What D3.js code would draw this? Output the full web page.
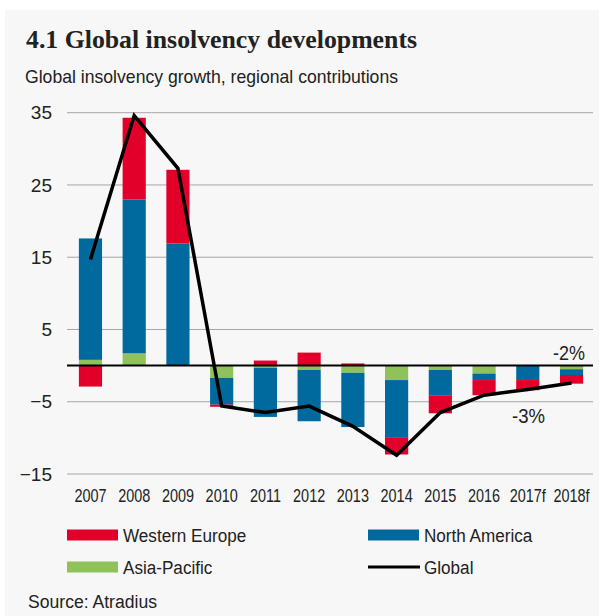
<!DOCTYPE html>
<html>
<head>
<meta charset="utf-8">
<script src="https://cdn.jsdelivr.net/npm/d3@7"></script>
<style>
  body { margin: 0; background: #fff; }
  text { fill: #222; }
  .narrow { font-family: "Liberation Sans Narrow", "Arial Narrow", "Liberation Sans", Arial, sans-serif; }
</style>
</head>
<body>
<div id="chart"></div>
<script>
// Chart data
var years = ["2007", "2008", "2009", "2010", "2011", "2012", "2013", "2014", "2015", "2016", "2017f", "2018f"];
var asiaPacific = [0.8, 1.7, 0, -1.7, -0.3, -0.6, -1.0, -2.0, -0.6, -1.1, 0, -0.5];
var northAmerica = [16.8, 21.3, 16.9, -3.7, -6.8, -7.1, -7.5, -8.0, -3.5, -0.9, -2.0, -0.8];
var westernEurope = [-2.9, 11.3, 10.2, -0.3, 0.7, 1.8, 0.3, -2.3, -2.5, -2.1, -1.4, -1.2];
var globalGrowth = [14.7, 34.6, 27.3, -5.6, -6.5, -5.6, -8.4, -12.4, -6.5, -4.1, -3.3, -2.4];
var yTicks = [35, 25, 15, 5, -5, -15];

var svgWidth = 601;
var svgHeight = 616;

var colors = {
  asia: "#8fc35a",
  na: "#00699d",
  we: "#e2002b"
};

// squeeze a text to a given width (no narrow font installed)
function fitWidth(sel, w) {
  sel.each(function() {
    var len = w;
    if (typeof w === "function") len = w(this.getComputedTextLength());
    d3.select(this)
      .attr("textLength", len)
      .attr("lengthAdjust", "spacingAndGlyphs");
  });
}

var svg = d3.select("#chart")
  .append("svg")
  .attr("width", svgWidth)
  .attr("height", svgHeight);

// grey panel
svg.append("rect")
  .attr("x", 5)
  .attr("y", 10)
  .attr("width", 594)
  .attr("height", 606)
  .attr("fill", "#f7f7f7");

// titles
svg.append("text")
  .attr("x", 26)
  .attr("y", 48)
  .style("font-family", "'Liberation Serif', 'Times New Roman', serif")
  .style("font-weight", "bold")
  .style("font-size", "25px")
  .text("4.1 Global insolvency developments")
  .call(fitWidth, 391);

svg.append("text")
  .attr("class", "narrow")
  .attr("x", 25)
  .attr("y", 83)
  .style("font-size", "19px")
  .text("Global insolvency growth, regional contributions")
  .call(fitWidth, 373);

// scales
var x = d3.scaleBand()
  .domain(years)
  .range([68.6, 593.4])
  .paddingInner(0.47)
  .paddingOuter(0.235);

var y = d3.scaleLinear()
  .domain([-15, 35])
  .range([474, 112.7]);

// gridlines
svg.append("g")
  .selectAll("line")
  .data(yTicks)
  .enter()
  .append("line")
  .attr("x1", 67)
  .attr("x2", 593)
  .attr("y1", d => y(d))
  .attr("y2", d => y(d))
  .attr("stroke", "#a6a6a6")
  .attr("stroke-width", 1);

// y axis labels
var yAxis = svg.append("g")
  .attr("transform", "translate(67,0)")
  .call(d3.axisLeft(y).tickValues(yTicks).tickSize(0).tickPadding(15).tickFormat(d3.format("d")));
yAxis.select(".domain").remove();
yAxis.selectAll("text")
  .style("font-size", "19px")
  .style("font-family", "'Liberation Sans', Arial, sans-serif")
  .attr("fill", "#222");

// stacked bars
var rows = years.map(function(yr, i) {
  return { year: yr, asia: asiaPacific[i], na: northAmerica[i], we: westernEurope[i] };
});

var stack = d3.stack()
  .keys(["asia", "na", "we"])
  .offset(d3.stackOffsetDiverging);

var series = stack(rows);

svg.append("g")
  .selectAll("g")
  .data(series)
  .enter()
  .append("g")
  .attr("fill", d => colors[d.key])
  .selectAll("rect")
  .data(d => d)
  .enter()
  .append("rect")
  .attr("x", d => x(d.data.year))
  .attr("width", x.bandwidth())
  .attr("y", d => y(Math.max(d[0], d[1])))
  .attr("height", d => Math.abs(y(d[0]) - y(d[1])));

// zero line
svg.append("line")
  .attr("x1", 67)
  .attr("x2", 593)
  .attr("y1", y(0))
  .attr("y2", y(0))
  .attr("stroke", "#000")
  .attr("stroke-width", 2);

// global line
var line = d3.line()
  .x((d, i) => x(years[i]) + x.bandwidth() / 2)
  .y(d => y(d));

svg.append("path")
  .datum(globalGrowth)
  .attr("d", line)
  .attr("fill", "none")
  .attr("stroke", "#000")
  .attr("stroke-width", 3.5)
  .attr("stroke-linejoin", "miter");

// x axis labels
var xAxis = svg.append("g")
  .attr("transform", "translate(0,484)")
  .call(d3.axisBottom(x).tickSize(0).tickPadding(5));
xAxis.select(".domain").remove();
xAxis.selectAll("text")
  .style("font-size", "18.5px")
  .style("font-family", "'Liberation Sans', Arial, sans-serif")
  .attr("fill", "#222")
  .call(fitWidth, len => len * 0.78);

// annotations
svg.append("text")
  .attr("x", 585)
  .attr("y", 360)
  .attr("text-anchor", "end")
  .style("font-size", "21px")
  .style("font-family", "'Liberation Sans', Arial, sans-serif")
  .text("-2%")
  .call(fitWidth, 32);

svg.append("text")
  .attr("x", 512)
  .attr("y", 423)
  .style("font-size", "21px")
  .style("font-family", "'Liberation Sans', Arial, sans-serif")
  .text("-3%")
  .call(fitWidth, 33);

// legend
var legendItems = [
  { label: "Western Europe", color: colors.we, type: "rect", x: 67, y: 535 },
  { label: "North America", color: colors.na, type: "rect", x: 368, y: 535 },
  { label: "Asia-Pacific", color: colors.asia, type: "rect", x: 67, y: 567 },
  { label: "Global", color: "#000", type: "line", x: 368, y: 567 }
];

var legend = svg.append("g")
  .selectAll("g")
  .data(legendItems)
  .enter()
  .append("g")
  .attr("transform", d => `translate(${d.x},${d.y})`);

legend.filter(d => d.type === "rect")
  .append("rect")
  .attr("x", 0)
  .attr("y", -5.5)
  .attr("width", 51)
  .attr("height", 11)
  .attr("fill", d => d.color);

legend.filter(d => d.type === "line")
  .append("line")
  .attr("x1", 0)
  .attr("x2", 52)
  .attr("y1", 0)
  .attr("y2", 0)
  .attr("stroke", "#000")
  .attr("stroke-width", 3);

legend.append("text")
  .attr("class", "narrow")
  .attr("x", 56)
  .attr("y", 7)
  .style("font-size", "18px")
  .text(d => d.label)
  .call(fitWidth, len => len * 0.95);

// source
svg.append("text")
  .attr("class", "narrow")
  .attr("x", 28)
  .attr("y", 608)
  .style("font-size", "18px")
  .text("Source: Atradius")
  .call(fitWidth, 129);
</script>
</body>
</html>
